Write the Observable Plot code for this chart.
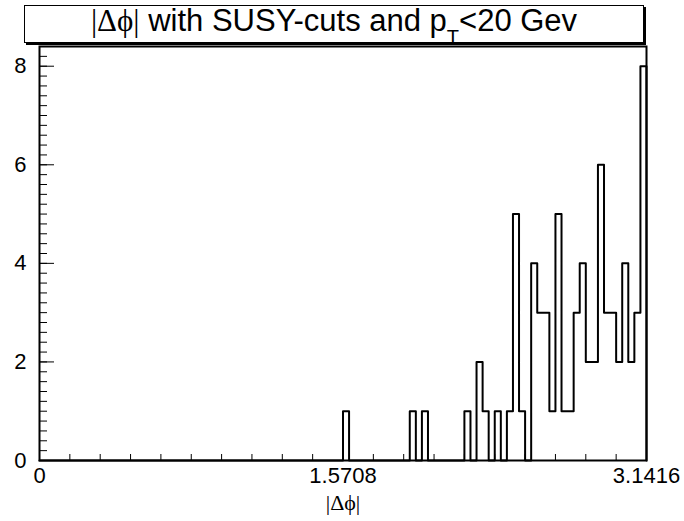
<!DOCTYPE html>
<html><head><meta charset="utf-8">
<script src="https://cdn.jsdelivr.net/npm/d3@7"></script>
<script src="https://cdn.jsdelivr.net/npm/@observablehq/plot@0.6"></script>
<style>
body{margin:0;background:#fff;}
#wrap{position:relative;width:684px;height:521px;}
#wrap svg{position:absolute;left:0;top:0;}
#title{position:absolute;left:24px;top:5px;width:618px;height:36px;border:1px solid #000;box-shadow:2px 2px 0 #000;background:#fff;color:#000;text-align:center;font-family:"Liberation Sans",Arial,sans-serif;font-size:31px;line-height:29px;white-space:nowrap;}
#title .g{font-family:"Liberation Serif",serif;}
#title .sub{font-size:20px;position:relative;top:13px;}
</style></head><body>
<div id="wrap"></div>
<script>
// Histogram: 100 bins over [0, pi]
const nBins = 100;
const counts = [
  0,0,0,0,0,0,0,0,0,0,
  0,0,0,0,0,0,0,0,0,0,
  0,0,0,0,0,0,0,0,0,0,
  0,0,0,0,0,0,0,0,0,0,
  0,0,0,0,0,0,0,0,0,0,
  1,0,0,0,0,0,0,0,0,0,
  0,1,0,1,0,0,0,0,0,0,
  1,0,2,1,0,1,0,1,5,1,
  0,4,3,3,1,5,1,1,3,4,
  2,2,6,3,3,2,4,2,3,8
];
const xTickValues = [0, Math.PI / 2, Math.PI];
const xTickLabels = ["0", "1.5708", "3.1416"];
const xMinorTicks = d3.range(21).map(k => k * Math.PI / 20);
const yTickValues = [0, 2, 4, 6, 8];
const yMinorTicks = d3.range(43).map(k => k * 0.2);
const titleText = "with SUSY-cuts and p";
const xLabel = "|\u0394\u03D5|";

const binW = Math.PI / nBins;
const pts = counts.map((c, i) => ({x: i * binW, y: c}));
pts.push({x: Math.PI, y: 0});

const W = 684, H = 521, mL = 39, mR = 38, mT = 46, mB = 61;
const fw = W - mL - mR, fh = H - mT - mB;

const chart = Plot.plot({
  width: W, height: H,
  marginLeft: mL, marginRight: mR, marginTop: mT, marginBottom: mB,
  style: {fontFamily: "'Liberation Sans', Arial, sans-serif", background: "#fff", color: "#000"},
  x: {domain: [0, Math.PI]},
  y: {domain: [0, 8.4]},
  marks: [
    Plot.tickY(yMinorTicks.filter(v => v <= 8.4), {y: d => d, insetRight: fw - 8, stroke: "#000", strokeWidth: 1}),
    Plot.tickY(yTickValues, {y: d => d, insetRight: fw - 15, stroke: "#000", strokeWidth: 1}),
    Plot.tickX(xMinorTicks, {x: d => d, insetTop: fh - 6, stroke: "#000", strokeWidth: 1}),
    Plot.tickX(xTickValues, {x: d => d, insetTop: fh - 12, stroke: "#000", strokeWidth: 1}),
    Plot.axisY({ticks: yTickValues, tickSize: 0, tickPadding: 13, fontSize: 22, label: null, fill: "#000"}),
    Plot.axisX({ticks: xTickValues, tickSize: 0, tickPadding: 7, fontSize: 22, label: null, fill: "#000",
      tickFormat: d => xTickLabels[xTickValues.indexOf(d)]}),
    Plot.frame({stroke: "#000", strokeWidth: 2}),
    Plot.line(pts, {x: "x", y: "y", curve: "step-after", stroke: "#000", strokeWidth: 2}),
    Plot.text([xLabel], {text: d => d, frameAnchor: "bottom", dy: 49, fontSize: 22, fill: "#000", fontFamily: "'Liberation Serif', serif"})
  ]
});
const wrap = document.getElementById("wrap");
wrap.appendChild(chart);
const t = document.createElement("div");
t.id = "title";
t.innerHTML = '<span class="g">|\u0394\u03D5|</span> ' + titleText + '<span class="sub">T</span>&lt;20 Gev';
wrap.appendChild(t);
</script>
</body></html>
